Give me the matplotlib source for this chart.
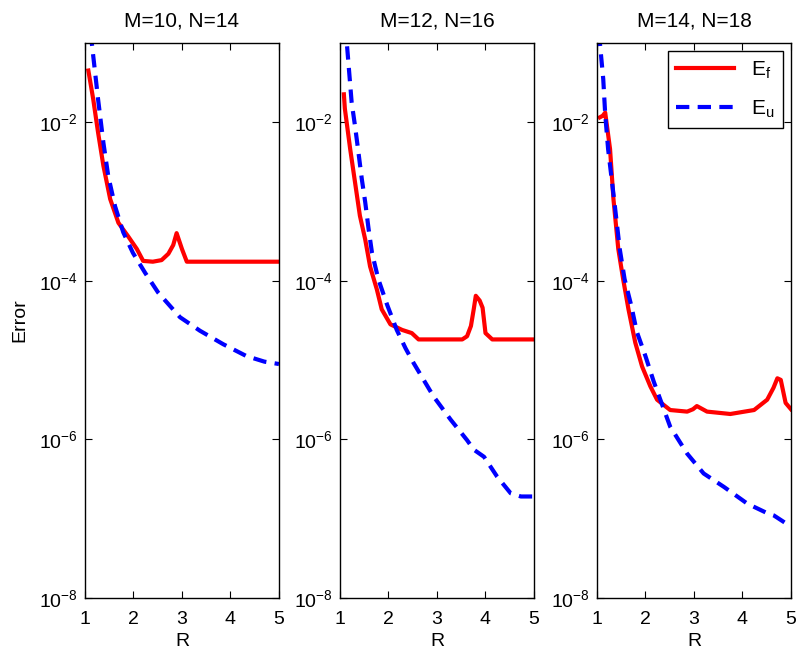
import numpy as np
import matplotlib
matplotlib.use("Agg")
import matplotlib.pyplot as plt
from matplotlib.ticker import FixedLocator, NullLocator, LogFormatterSciNotation

plt.rcParams["font.family"] = ["Liberation Sans", "DejaVu Sans"]
plt.rcParams["mathtext.default"] = "regular"

titles = ["M=10, N=14", "M=12, N=16", "M=14, N=18"]

# log10 of the errors E_f and E_u against R, one set per panel
r_f1 = [1.07, 1.17, 1.27, 1.38, 1.52, 1.69, 1.89, 2.07, 2.20, 2.4, 2.58, 2.72, 2.82, 2.89, 3.0, 3.1, 4.0, 5.0]
ef1 = [-1.35, -1.71, -2.13, -2.55, -2.97, -3.27, -3.44, -3.60, -3.75, -3.76, -3.74, -3.66, -3.55, -3.40, -3.6, -3.76, -3.76, -3.76]
r_u1 = [1.08, 1.14, 1.21, 1.27, 1.38, 1.48, 1.62, 1.79, 1.99, 2.24, 2.51, 2.96, 3.37, 3.85, 4.33, 4.7, 5.0]
eu1 = [-0.6, -1.0, -1.38, -1.71, -2.26, -2.68, -3.06, -3.39, -3.65, -3.90, -4.15, -4.46, -4.63, -4.80, -4.95, -5.02, -5.05]

r_f2 = [1.08, 1.10, 1.21, 1.31, 1.41, 1.52, 1.62, 1.76, 1.86, 2.04, 2.28, 2.48, 2.62, 3.52, 3.62, 3.70, 3.76, 3.80, 3.88, 3.94, 4.0, 4.14, 5.0]
ef2 = [-1.65, -1.83, -2.34, -2.76, -3.18, -3.48, -3.82, -4.11, -4.36, -4.55, -4.62, -4.66, -4.74, -4.74, -4.70, -4.57, -4.35, -4.19, -4.25, -4.34, -4.66, -4.74, -4.74]
r_u2 = [1.08, 1.14, 1.24, 1.31, 1.38, 1.45, 1.52, 1.59, 1.66, 1.79, 1.97, 2.17, 2.35, 2.52, 2.93, 3.28, 3.62, 3.76, 3.97, 4.24, 4.52, 4.73, 5.0]
eu2 = [-0.5, -1.0, -1.75, -2.05, -2.38, -2.72, -3.01, -3.35, -3.65, -3.98, -4.30, -4.62, -4.85, -5.04, -5.46, -5.75, -6.01, -6.13, -6.22, -6.47, -6.68, -6.72, -6.72]

r_f3 = [1.06, 1.12, 1.17, 1.27, 1.34, 1.44, 1.54, 1.65, 1.79, 1.93, 2.10, 2.24, 2.51, 2.86, 2.98, 3.06, 3.15, 3.27, 3.75, 4.24, 4.51, 4.64, 4.72, 4.79, 4.89, 5.0]
ef3 = [-1.94, -1.92, -1.88, -2.34, -2.97, -3.60, -3.98, -4.36, -4.78, -5.08, -5.33, -5.50, -5.63, -5.65, -5.62, -5.58, -5.61, -5.65, -5.68, -5.63, -5.50, -5.35, -5.23, -5.25, -5.54, -5.62]
r_u3 = [1.04, 1.06, 1.13, 1.17, 1.23, 1.36, 1.47, 1.57, 1.71, 1.82, 2.0, 2.17, 2.51, 2.86, 3.20, 3.62, 4.10, 4.51, 4.65, 5.0]
eu3 = [-0.6, -1.0, -1.46, -1.9, -2.34, -3.01, -3.60, -3.98, -4.32, -4.64, -4.95, -5.27, -5.84, -6.18, -6.43, -6.60, -6.81, -6.93, -6.96, -7.10]

panels = [(r_f1, ef1, r_u1, eu1), (r_f2, ef2, r_u2, eu2), (r_f3, ef3, r_u3, eu3)]

fig = plt.figure(figsize=(7.97, 6.54), dpi=100)
lefts = [0.1066, 0.4266, 0.749]
width, bottom, height = 0.2434, 0.0856, 0.849

for i, (rf, ef, ru, eu) in enumerate(panels):
    ax = fig.add_axes([lefts[i], bottom, width, height])
    ax.semilogy(rf, 10.0 ** np.array(ef), color="red", lw=3, solid_joinstyle="round", label="$E_f$")
    ax.semilogy(ru, 10.0 ** np.array(eu), color="blue", lw=3, dashes=(3.2, 2.0), label="$E_u$")
    ax.set_xlim(1, 5)
    ax.set_ylim(1e-8, 1e-1)
    ax.set_xticks([1, 2, 3, 4, 5])
    ax.yaxis.set_major_locator(FixedLocator([1e-8, 1e-6, 1e-4, 1e-2]))
    ax.yaxis.set_major_formatter(LogFormatterSciNotation())
    ax.yaxis.set_minor_locator(NullLocator())
    ax.tick_params(direction="in", top=True, right=True, length=5, width=0.8, labelsize=14)
    ax.tick_params(axis="x", pad=9)
    ax.tick_params(axis="y", pad=5)
    for s in ax.spines.values():
        s.set_linewidth(1.0)
    ax.set_title(titles[i], fontsize=15, pad=12)
    ax.set_xlabel("R", fontsize=14, labelpad=4)
    if i == 0:
        ax.set_ylabel("Error", fontsize=14, labelpad=8)
    if i == 2:
        leg = ax.legend(loc="upper right", fontsize=15, handlelength=2.8, labelspacing=0.85,
                        fancybox=False, framealpha=1, edgecolor="black", borderaxespad=0.4)
        leg.get_frame().set_linewidth(1.0)

fig.savefig("out.png", dpi=100)
